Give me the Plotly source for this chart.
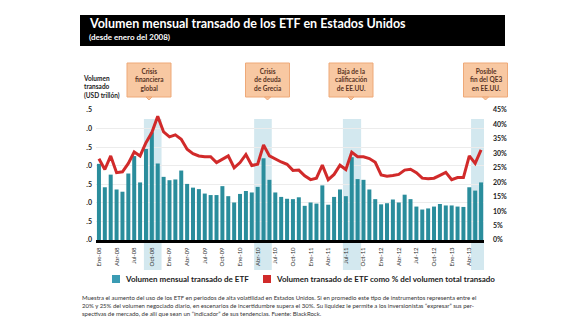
import plotly.graph_objects as go

# ---------------- data ----------------
meses = ["Ene", "Feb", "Mar", "Abr", "May", "Jun", "Jul", "Ago", "Sep", "Oct", "Nov", "Dic"]
periodos = [f"{meses[m]}-{str(y)[2:]}" for y in range(2008, 2014) for m in range(12)][:66]

volumen = [2.05, 1.42, 1.76, 1.36, 1.30, 1.79, 2.26, 1.55, 2.45, 2.90, 2.06, 1.70,
           1.61, 1.63, 1.87, 1.51, 1.41, 1.37, 1.25, 1.21, 1.21, 1.45, 1.18, 1.01,
           1.24, 1.32, 1.28, 1.43, 2.20, 1.62, 1.28, 1.16, 1.11, 1.10, 1.15, 0.92,
           1.01, 0.98, 1.47, 0.95, 1.16, 1.36, 1.18, 2.23, 1.64, 1.62, 1.36, 1.10,
           0.96, 0.99, 1.09, 1.01, 1.22, 1.10, 0.90, 0.82, 0.85, 0.90, 0.97, 0.93,
           0.93, 0.90, 0.89, 1.42, 1.33, 1.55]

porcentaje = [28.1, 24.4, 29.1, 23.3, 23.6, 26.5, 30.5, 29.1, 33.7, 37.2, 42.8, 37.4,
              35.7, 36.4, 34.9, 31.4, 29.9, 29.1, 28.8, 28.8, 26.8, 27.9, 29.1, 25.0,
              26.8, 29.6, 25.8, 26.2, 32.9, 29.1, 27.9, 27.0, 26.2, 24.1, 24.2, 22.2,
              20.9, 21.4, 25.9, 20.9, 22.7, 25.9, 24.4, 30.4, 28.8, 28.8, 28.2, 26.9,
              22.5, 22.1, 22.3, 22.7, 24.2, 24.5, 23.3, 21.4, 21.2, 21.4, 22.4, 23.4,
              20.9, 21.6, 21.6, 29.1, 26.5, 31.2]

tick_idx = list(range(0, 66, 3))
tick_text = [periodos[i] for i in tick_idx]

left_ticks = [0, 0.5, 1, 1.5, 2, 2.5, 3, 3.5]
left_tick_text = [".0", ".5", ".0", ".5", ".0", ".5", ".0", ".5"]
right_ticks = [0, 5, 10, 15, 20, 25, 30, 35, 40, 45]

# highlighted periods (start / end, in month index units)
hl_start = [8.15, 26.9, 42.0, 63.8]
hl_end = [11.15, 29.9, 45.1, 66.9]

eventos = ["Crisis<br>financiera<br>global", "Crisis<br>de deuda<br>de Grecia",
           "Baja de la<br>calificación<br>de EE.UU.", "Posible<br>fin del QE3<br>en EE.UU."]

# ---------------- styling ----------------
W, H = 580, 330
ML, MR, MT, MB = 96, 96, 110, 90
PW, PH = W - ML - MR, H - MT - MB
TEAL = "#2a8d9c"
RED = "#d12a2a"
HL = "#d3e8ef"
FONT = "Lato"

def px(x):
    return (x - ML) / PW

def py(y):
    return (H - MB - y) / PH

x = list(range(len(volumen)))

fig = go.Figure()
fig.add_trace(go.Bar(x=x, y=volumen, marker=dict(color=TEAL, line=dict(width=0)),
                     name="Volumen mensual transado de ETF", showlegend=False))
fig.add_trace(go.Scatter(x=x, y=porcentaje, yaxis="y2", mode="lines",
                         line=dict(color=RED, width=3), showlegend=False))

shapes = []
for s, e in zip(hl_start, hl_end):
    shapes.append(dict(type="rect", xref="x", yref="paper", x0=s - 0.5, x1=e - 0.5,
                       y0=py(270), y1=py(119), fillcolor=HL, line=dict(width=0), layer="below"))

# title band
shapes.append(dict(type="rect", xref="paper", yref="paper", x0=px(80), x1=px(505),
                   y0=py(46), y1=py(15), fillcolor="black", line=dict(width=0)))

annotations = [
    dict(text="<b>Volumen mensual transado de los ETF en Estados Unidos</b>", xref="paper", yref="paper",
         x=px(87), y=py(24), xanchor="left", yanchor="middle", showarrow=False,
         font=dict(family=FONT, size=12.5, color="white")),
    dict(text="<b>(desde enero del 2008)</b>", xref="paper", yref="paper",
         x=px(87), y=py(37), xanchor="left", yanchor="middle", showarrow=False,
         font=dict(family=FONT, size=8, color="white")),
    dict(text="<b>Volumen<br>transado<br>(USD trillón)</b>", xref="paper", yref="paper",
         x=px(81), y=py(87), xanchor="left", yanchor="middle", showarrow=False, align="left",
         font=dict(family=FONT, size=6.5, color="#222")),
]

box_cx = [149, 267.5, 351, 485.5]
for cx, txt in zip(box_cx, eventos):
    shapes.append(dict(type="rect", xref="paper", yref="paper", x0=px(cx - 22), x1=px(cx + 22),
                       y0=py(97), y1=py(63), fillcolor="#f8c8a2", line=dict(color="#eea978", width=1)))
    shapes.append(dict(type="path", xref="paper", yref="paper",
                       path=f"M {px(cx-3)} {py(97)} L {px(cx)} {py(100)} L {px(cx+3)} {py(97)} Z",
                       fillcolor="#f8c8a2", line=dict(color="#eea978", width=1)))
    annotations.append(dict(text=f"<b>{txt}</b>", xref="paper", yref="paper", x=px(cx), y=py(80),
                            xanchor="center", yanchor="middle", showarrow=False, align="center",
                            font=dict(family=FONT, size=6.5, color="#5a3424")))

# legend
shapes.append(dict(type="rect", xref="paper", yref="paper", x0=px(112), x1=px(120),
                   y0=py(283), y1=py(275), fillcolor="#3a9bb3", line=dict(width=0)))
shapes.append(dict(type="rect", xref="paper", yref="paper", x0=px(263), x1=px(271),
                   y0=py(283), y1=py(275), fillcolor=RED, line=dict(width=0)))
annotations.append(dict(text="<b>Volumen mensual transado de ETF</b>", xref="paper", yref="paper",
                        x=px(123), y=py(279), xanchor="left", yanchor="middle", showarrow=False,
                        font=dict(family=FONT, size=8, color="#222")))
annotations.append(dict(text="<b>Volumen transado de ETF como % del volumen total transado</b>",
                        xref="paper", yref="paper", x=px(274), y=py(279), xanchor="left",
                        yanchor="middle", showarrow=False, font=dict(family=FONT, size=8, color="#222")))

nota = ("Muestra el aumento del uso de los ETF en periodos de alta volatilidad en Estados Unidos. "
        "Si en promedio este tipo de instrumentos representa entre el<br>"
        "20% y 25% del volumen negociado diario, en escenarios de incertidumbre supera el 30%. "
        "Su liquidez le permite a los inversionistas \u201cexpresar\u201d sus per-<br>"
        "spectivas de mercado, de allí que sean un \u201cindicador\u201d de sus tendencias. Fuente: BlackRock.")
annotations.append(dict(text=nota, xref="paper", yref="paper", x=px(80), y=py(292),
                        xanchor="left", yanchor="top", showarrow=False, align="left",
                        font=dict(family=FONT, size=6, color="#333")))

fig.update_layout(
    width=W, height=H, margin=dict(l=ML, r=MR, t=MT, b=MB),
    paper_bgcolor="white", plot_bgcolor="white", bargap=0.32,
    shapes=shapes, annotations=annotations,
    xaxis=dict(range=[-0.5, 65.5], tickmode="array", tickvals=tick_idx, ticktext=tick_text,
               tickangle=-90, tickfont=dict(family=FONT, size=6, color="#333"),
               showline=True, linecolor="black", linewidth=3, showgrid=False, zeroline=False,
               ticks="", ticklabelstandoff=2),
    yaxis=dict(range=[0, 3.5], tickmode="array", tickvals=left_ticks, ticktext=left_tick_text,
               tickfont=dict(family=FONT, size=7, color="#222"), showgrid=True,
               gridcolor="#ececec", gridwidth=1, zeroline=False, ticks="", ticklabelstandoff=3),
    yaxis2=dict(range=[0, 45], overlaying="y", side="right", tickmode="array", tickvals=right_ticks,
                ticktext=[f"<b>{v}%</b>" for v in right_ticks],
                tickfont=dict(family=FONT, size=7, color="#222"), showgrid=False, zeroline=False,
                ticks="", ticklabelstandoff=8),
)
fig.update_yaxes(tickprefix="")
fig.layout.yaxis.ticktext = [f"<b>{t}</b>" for t in left_tick_text]

fig.write_html("out.html")
